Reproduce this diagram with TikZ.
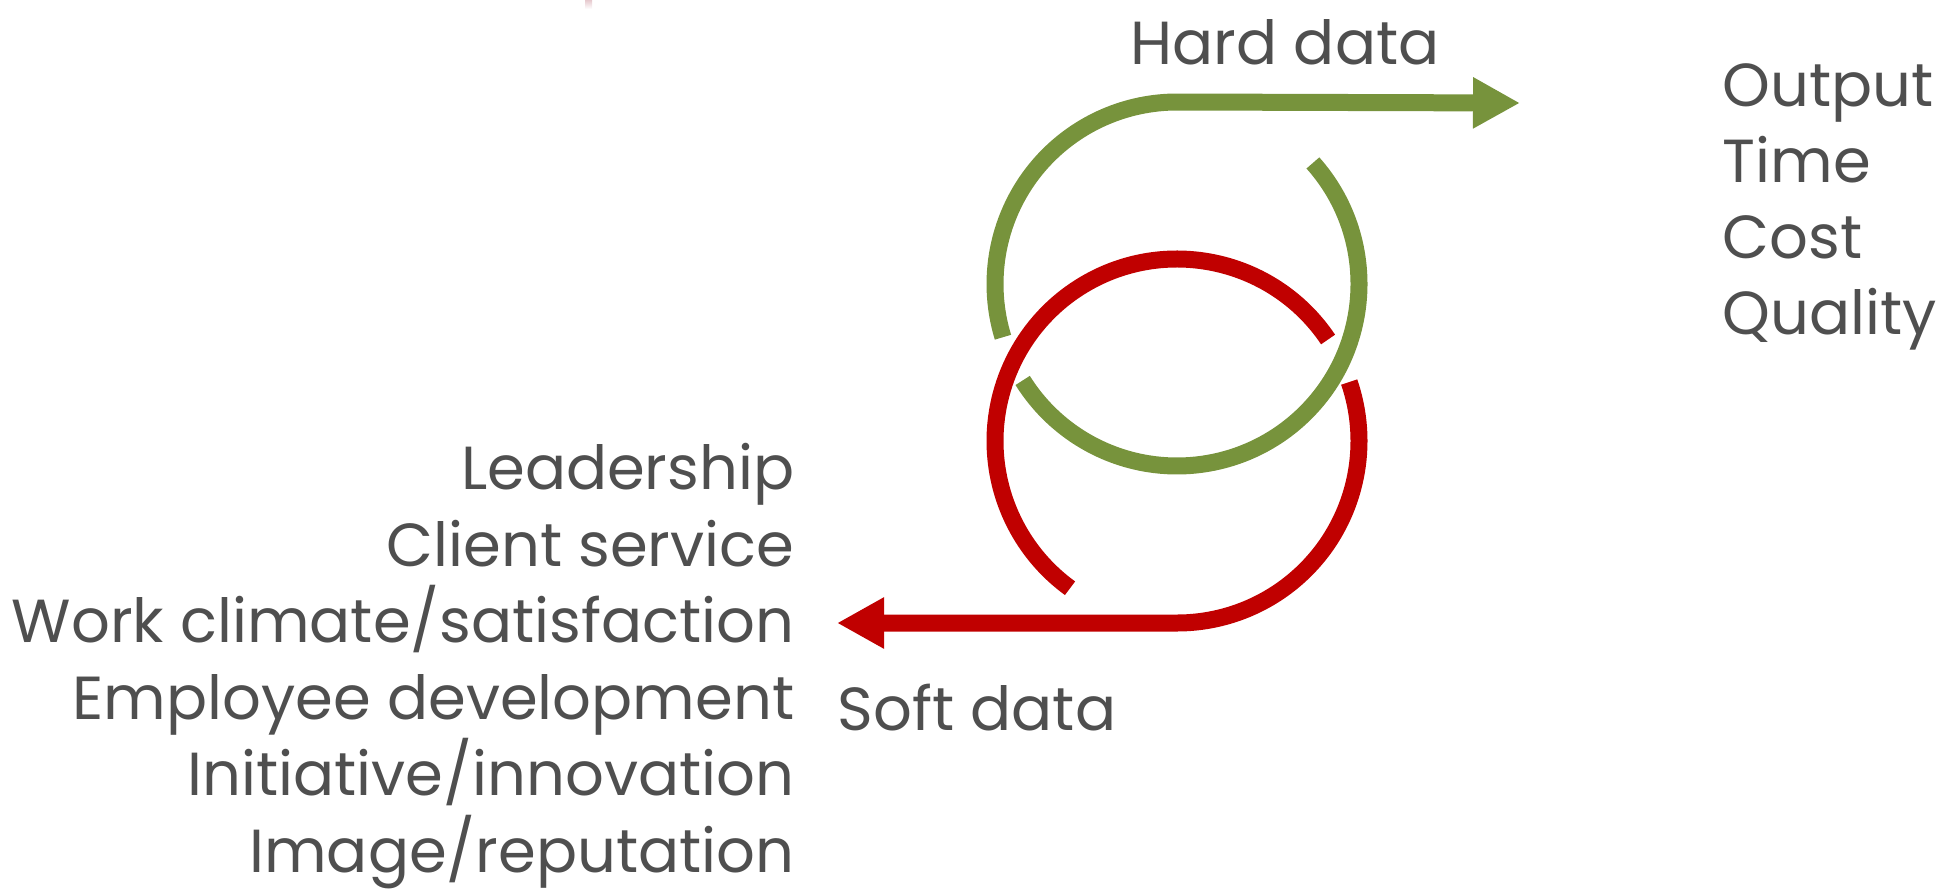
\documentclass[tikz,border=0pt]{standalone}
\usepackage{fontspec}
\setmainfont{Poppins}
\usepackage{tikz}
\usepackage{xcolor}
\usetikzlibrary{arrows.meta}

\definecolor{hardgreen}{HTML}{77933C}
\definecolor{softred}{HTML}{C00000}
\definecolor{labelgray}{HTML}{4F4F4F}
\definecolor{markpink}{HTML}{E6C9CE}

\begin{document}
\begin{tikzpicture}[
    loop/.style={line width=0.17cm},
    tip/.style={-{Triangle[length=0.47cm,width=0.48cm]}},
    lbl/.style={text=labelgray,inner sep=0pt,font=\fontsize{17.3}{20}\selectfont}]
  \useasboundingbox (0,0) rectangle (19.52,-8.89);
  \shade[top color=markpink,bottom color=white] (5.85,0) rectangle (5.92,-0.09);
  \coordinate (G) at (11.77,-2.84);
  \coordinate (R) at (11.77,-4.41);
  \coordinate (hardend) at (15.20,-1.03);
  \coordinate (softend) at (8.37,-6.23);
  % the two loops, cut where they pass under each other
  \draw[loop,softred] (R) ++(33.9:1.82) arc[start angle=33.9,end angle=234,radius=1.82];
  \draw[loop,hardgreen] (G) ++(41.7:1.82) arc[start angle=41.7,end angle=-148,radius=1.82];
  \draw[loop,hardgreen,tip] (G) ++(197:1.82) arc[start angle=197,end angle=90,radius=1.82] -- (hardend);
  \draw[loop,softred,tip] (R) ++(18.9:1.82) arc[start angle=18.9,end angle=-90,radius=1.82] -- (softend);
  \node[lbl,anchor=base west] (hard) at (11.30,-0.65) {Hard data};
  \node[lbl,anchor=base west] (soft) at (8.37,-7.30) {Soft data};
  \node[lbl,anchor=base west] (output) at (17.22,-1.06) {Output};
  \node[lbl,anchor=base west] (time) at (17.22,-1.82) {Time};
  \node[lbl,anchor=base west] (cost) at (17.22,-2.58) {Cost};
  \node[lbl,anchor=base west] (quality) at (17.22,-3.34) {Quality};
  \node[lbl,anchor=base east] (leader) at (7.95,-4.89) {Leadership};
  \node[lbl,anchor=base east] (client) at (7.95,-5.66) {Client service};
  \node[lbl,anchor=base east] (climate) at (7.95,-6.42) {Work climate/satisfaction};
  \node[lbl,anchor=base east] (develop) at (7.95,-7.19) {Employee development};
  \node[lbl,anchor=base east] (innov) at (7.95,-7.95) {Initiative/innovation};
  \node[lbl,anchor=base east] (image) at (7.95,-8.72) {Image/reputation};
\end{tikzpicture}
\end{document}
